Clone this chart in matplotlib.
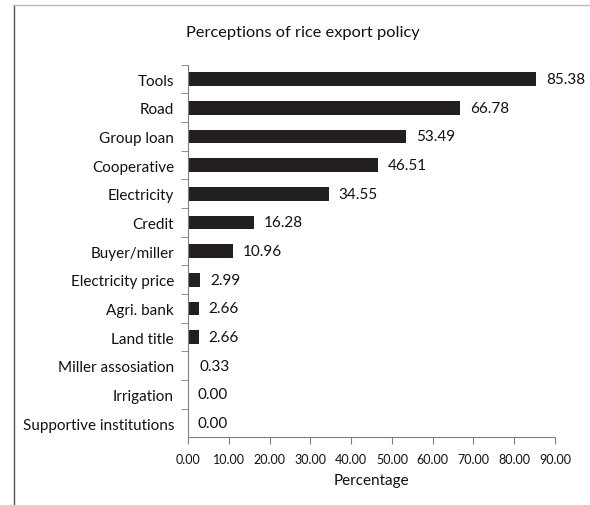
import matplotlib.pyplot as plt
from matplotlib.lines import Line2D

categories = ['Tools', 'Road', 'Group loan', 'Cooperative', 'Electricity', 'Credit',
              'Buyer/miller', 'Electricity price', 'Agri. bank', 'Land title',
              'Miller assosiation', 'Irrigation', 'Supportive institutions']
values = [85.38, 66.78, 53.49, 46.51, 34.55, 16.28, 10.96, 2.99, 2.66, 2.66, 0.33, 0.00, 0.00]
xticks = [0, 10, 20, 30, 40, 50, 60, 70, 80, 90]

plt.rcParams['font.family'] = ['Lato', 'DejaVu Sans']

fig = plt.figure(figsize=(5.9, 5.06), dpi=100)
ax = fig.add_axes([0.3186, 0.1334, 0.622, 0.7366])

pos = list(range(len(categories)))
ax.barh(pos, values, height=0.47, color='#231f20')
ax.set_ylim(len(categories) - 0.5, -0.5)
ax.set_xlim(0, 90)

# value labels
for p, v in zip(pos, values):
    ax.text(v + 2.4, p, '%.2f' % v, va='center', ha='left', fontsize=11, color='#111111')

ax.set_yticks(pos)
ax.set_yticklabels(categories, fontsize=11, color='#111111')
ax.set_yticks([p - 0.5 for p in pos], minor=True)
ax.tick_params(axis='y', which='major', length=0, pad=10)
ax.tick_params(axis='y', which='minor', length=5, color='#808080', direction='out')

ax.set_xticks(xticks)
ax.set_xticklabels(['%.2f' % t for t in xticks], fontsize=9, color='#111111')
ax.tick_params(axis='x', length=5, color='#808080', direction='out', pad=6)
ax.set_xlabel('Percentage', fontsize=11, labelpad=6, color='#111111')

for s in ['top', 'right']:
    ax.spines[s].set_visible(False)
for s in ['left', 'bottom']:
    ax.spines[s].set_color('#808080')

fig.text(0.513, 0.935, 'Perceptions of rice export policy', ha='center', va='center',
         fontsize=11.8, color='#111111')

# page frame lines
fig.add_artist(Line2D([14 / 590, 14 / 590], [0, 1 - 6 / 506], transform=fig.transFigure,
                      color='#555555', lw=1))
fig.add_artist(Line2D([14 / 590, 1], [1 - 6 / 506, 1 - 6 / 506], transform=fig.transFigure,
                      color='#bbbbbb', lw=1))

fig.savefig('out.png', dpi=100)
